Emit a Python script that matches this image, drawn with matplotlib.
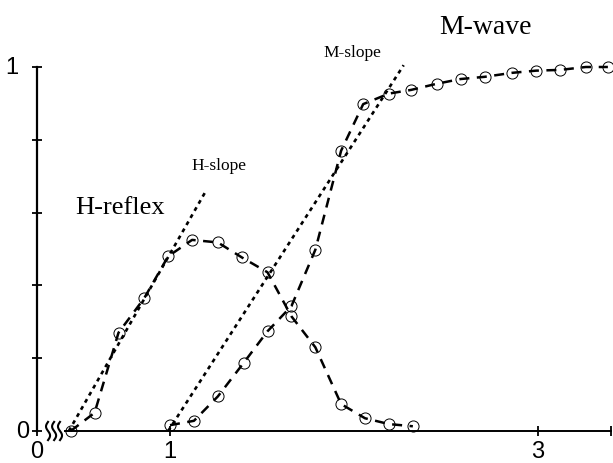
import matplotlib.pyplot as plt
import numpy as np

# H-reflex recruitment curve
h_x = [0.46, 0.59, 0.72, 0.86, 0.99, 1.12, 1.26, 1.39, 1.53, 1.66, 1.79, 1.93, 2.06, 2.19, 2.32]
h_y = [0.0, 0.05, 0.27, 0.365, 0.48, 0.525, 0.518, 0.477, 0.436, 0.315, 0.23, 0.074, 0.035, 0.019, 0.013]

# M-wave recruitment curve
m_x = [1.0, 1.13, 1.26, 1.40, 1.53, 1.66, 1.79, 1.93, 2.05, 2.19, 2.31, 2.45, 2.58, 2.71, 2.86,
       2.99, 3.12, 3.26, 3.38]
m_y = [0.016, 0.028, 0.095, 0.187, 0.274, 0.343, 0.498, 0.77, 0.898, 0.927, 0.937, 0.954, 0.967,
       0.973, 0.984, 0.99, 0.992, 1.0, 1.0]

# slope lines
h_slope_x = [0.45, 1.19]
h_slope_y = [0.0, 0.655]
m_slope_x = [0.99, 2.27]
m_slope_y = [0.0, 1.005]

x_ticks = [0.277, 1, 3, 3.397]
x_tick_labels = ["0", "1", "3", ""]
y_ticks = [0, 0.2, 0.4, 0.6, 0.8, 1.0]

serif = "Liberation Serif"
sans = "Liberation Sans"

fig = plt.figure(figsize=(6.13, 4.64), dpi=100)
ax = fig.add_axes([37 / 613, 32 / 464, 574 / 613, 364 / 464])

ax.set_xlim(x_ticks[0], x_ticks[-1])
ax.set_ylim(0, 1)

# dashed curves with open circles
for xs, ys in [(h_x, h_y), (m_x, m_y)]:
    ax.plot(xs, ys, color="black", lw=1.8, dashes=(4, 3), zorder=2, clip_on=False)
    ax.plot(xs, ys, ls="none", marker="o", ms=8, mfc="none", mec="black", mew=0.7,
            zorder=3, clip_on=False)

# dotted slope lines
ax.plot(h_slope_x, h_slope_y, color="black", lw=1.9, dashes=(1.5, 1.6), zorder=2, clip_on=False)
ax.plot(m_slope_x, m_slope_y, color="black", lw=1.9, dashes=(1.5, 1.6), zorder=2, clip_on=False)

# annotations
ax.text(0.728, 0.615, "H-reflex", family=serif, fontsize=19, ha="center", va="center")
ax.text(1.266, 0.731, "H-slope", family=serif, fontsize=12.5, ha="center", va="center")
ax.text(1.989, 1.041, "M-slope", family=serif, fontsize=12.5, ha="center", va="center",
        clip_on=False)
ax.text(2.717, 1.11, "M-wave", family=serif, fontsize=20, ha="center", va="center",
        clip_on=False)

# axes styling
for side in ["top", "right"]:
    ax.spines[side].set_visible(False)
ax.spines["left"].set_linewidth(1.6)
ax.spines["bottom"].set_linewidth(1.4)
ax.spines["bottom"].set_bounds(0.43, x_ticks[-1])

ax.set_xticks(x_ticks)
ax.set_xticklabels(x_tick_labels, family=sans, fontsize=17)
ax.set_yticks(y_ticks)
ax.set_yticklabels([])
ax.tick_params(axis="both", direction="inout", length=6.5, width=1.3, color="black")
ax.tick_params(axis="x", pad=3)

# y labels only at 0 and 1
ax.text(-0.033, 1.0, "1", transform=ax.transAxes, family=sans, fontsize=17,
        ha="right", va="center")
ax.text(-0.014, 0.0, "0", transform=ax.transAxes, family=sans, fontsize=17,
        ha="right", va="center")

# axis break squiggles
t = np.linspace(-1, 1, 40)
for cx in [0.337, 0.370, 0.402]:
    ax.plot(cx - 0.011 * np.sin(np.pi * t), 0.025 * t, color="black", lw=1.5, clip_on=False)

fig.savefig("out.png", dpi=100)
